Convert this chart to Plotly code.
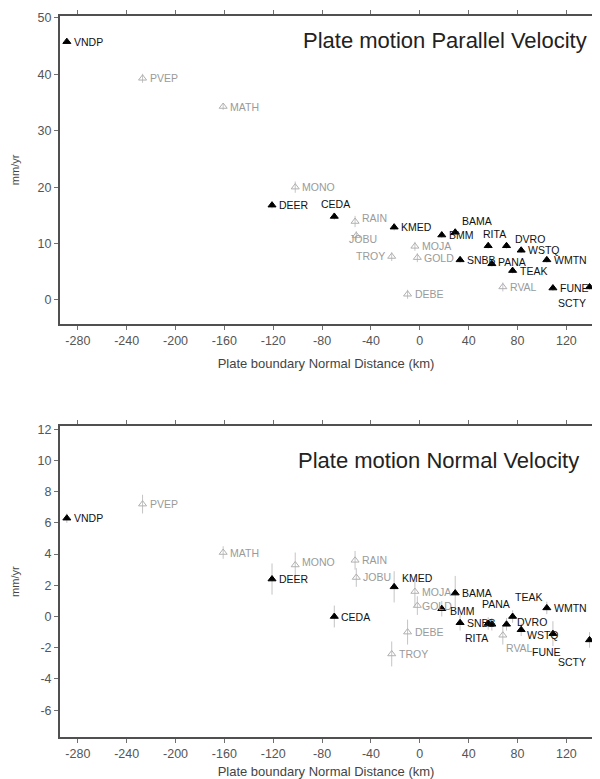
import plotly.graph_objects as go
from plotly.subplots import make_subplots
import pandas as pd

stations = ["VNDP", "PVEP", "MATH", "MONO", "DEER", "CEDA", "RAIN", "JOBU", "KMED", "TROY",
            "MOJA", "GOLD", "DEBE", "BMM", "BAMA", "SNBB", "RITA", "PANA", "DVRO", "TEAK",
            "WSTQ", "RVAL", "WMTN", "FUNE", "SCTY"]
distance = [-289, -227, -161, -102, -121, -70, -53, -52, -21, -23,
            -4, -2, -10, 18, 29, 33, 56, 59, 71, 76,
            83, 68, 104, 109, 139]
parallel_vel = [45.8, 39.3, 34.3, 20.0, 16.8, 14.8, 13.9, 11.4, 12.9, 7.7,
                9.5, 7.5, 1.0, 11.5, 12.0, 7.1, 9.6, 6.4, 9.6, 5.2,
                8.8, 2.3, 7.1, 2.1, 2.3]
parallel_err = [0.4, 0.8, 0.6, 1.0, 0.6, 0.6, 1.0, 0.8, 0.6, 0.8,
                0.8, 0.8, 0.8, 0.5, 0.5, 0.5, 0.5, 0.5, 0.5, 0.5,
                0.5, 0.8, 0.5, 0.5, 0.5]
normal_vel = [6.3, 7.2, 4.1, 3.3, 2.4, 0.0, 3.6, 2.5, 1.9, -2.4,
              1.6, 0.7, -1.0, 0.5, 1.5, -0.4, -0.45, -0.5, -0.5, 0.0,
              -0.85, -1.2, 0.55, -1.1, -1.5]
normal_err = [0.3, 0.6, 0.4, 0.8, 1.0, 0.7, 0.6, 0.6, 1.0, 0.8,
              1.0, 0.6, 0.8, 0.5, 1.1, 0.5, 0.4, 0.4, 0.4, 0.4,
              0.4, 0.6, 0.4, 0.8, 0.5]
filled = [True, False, False, False, True, True, False, False, True, False,
          False, False, False, True, True, True, True, True, True, True,
          True, False, True, True, True]

x_ticks = [-280, -240, -200, -160, -120, -80, -40, 0, 40, 80, 120]
y_ticks_top = [0, 10, 20, 30, 40, 50]
y_ticks_bot = [-6, -4, -2, 0, 2, 4, 6, 8, 10, 12]

# label placement styles: (xanchor, xshift px, yshift px; positive = up)
DEFAULT = ("left", 5, 0)
lab_top = {"CEDA": ("center", 1, 12), "RAIN": ("left", 5, 4), "JOBU": ("left", -9, -3),
           "TROY": ("right", -5, 0), "BAMA": ("left", 5, 11), "RITA": ("center", 6, 12),
           "DVRO": ("left", 6, 7), "PANA": ("left", 4, 2), "SCTY": ("right", -2, -16)}
lab_bot = {"MONO": ("left", 5, 3), "KMED": ("left", 6, 9), "RITA": ("right", 2, -14),
           "PANA": ("center", 4, 20), "TEAK": ("left", 0, 20), "DVRO": ("left", 8, 2),
           "WSTQ": ("left", 4, -5), "RVAL": ("left", 1, -13), "FUNE": ("right", 10, -18),
           "SCTY": ("right", -2, -22), "GOLD": ("left", 3, 0), "BMM": ("left", 6, -2)}

df = pd.DataFrame({"name": stations, "x": distance, "vp": parallel_vel, "ep": parallel_err,
                   "vn": normal_vel, "en": normal_err, "filled": filled})

FONT = "Liberation Sans, Arial, sans-serif"
fig = make_subplots(rows=2, cols=1, vertical_spacing=0.142)

for row, vcol, ecol, labmap in [(1, "vp", "ep", lab_top), (2, "vn", "en", lab_bot)]:
    for is_filled in [False, True]:
        d = df[df["filled"] == is_filled]
        fig.add_trace(go.Scatter(
            x=d["x"], y=d[vcol], mode="markers",
            marker=dict(symbol="triangle-up" if is_filled else "triangle-up-open",
                        size=7, color="#000000" if is_filled else "#b0b0b0",
                        line=dict(width=1, color="#000000" if is_filled else "#b0b0b0")),
            error_y=dict(type="data", array=d[ecol], color="#c4c4c4",
                         thickness=1, width=0),
            showlegend=False, cliponaxis=False,
        ), row=row, col=1)
    xr = "x" if row == 1 else "x2"
    yr = "y" if row == 1 else "y2"
    for _, r in df.iterrows():
        anc, dx, dy = labmap.get(r["name"], DEFAULT)
        fig.add_annotation(x=r["x"], y=r[vcol], xref=xr, yref=yr, text=r["name"],
                           showarrow=False, xanchor=anc, yanchor="middle",
                           xshift=dx, yshift=dy,
                           font=dict(family=FONT, size=10.5,
                                     color="#111111" if r["filled"] else "#9a9a9a"))

axis_common = dict(showline=True, linecolor="#505050", linewidth=2, mirror="ticks",
                   ticks="outside", ticklen=4, tickcolor="#707070", showgrid=False,
                   zeroline=False, tickfont=dict(family=FONT, size=12.5, color="#555555"))

for row, so in [(1, 12), (2, 7)]:
    fig.update_xaxes(range=[-294.6, 141], tickvals=x_ticks,
                     ticktext=[str(v) for v in x_ticks],
                     title=dict(text="Plate boundary Normal Distance (km)",
                                font=dict(family=FONT, size=13, color="#444444"),
                                standoff=so),
                     **axis_common, row=row, col=1)

fig.update_yaxes(range=[-4.25, 50.35], tickvals=y_ticks_top,
                 ticktext=[str(v) for v in y_ticks_top],
                 title=dict(text="mm/yr", font=dict(family=FONT, size=11, color="#444444"),
                            standoff=16),
                 **axis_common, row=1, col=1)
fig.update_yaxes(range=[-7.72, 12.19], tickvals=y_ticks_bot,
                 ticktext=[str(v) for v in y_ticks_bot],
                 title=dict(text="mm/yr", font=dict(family=FONT, size=11, color="#444444"),
                            standoff=16),
                 **axis_common, row=2, col=1)

fig.add_annotation(text="Plate motion Parallel Velocity", xref="x domain", yref="y domain",
                   x=0.995, y=0.922, xanchor="right", yanchor="middle", showarrow=False,
                   font=dict(family=FONT, size=22, color="#222222"))
fig.add_annotation(text="Plate motion Normal Velocity", xref="x2 domain", yref="y2 domain",
                   x=0.98, y=0.89, xanchor="right", yanchor="middle", showarrow=False,
                   font=dict(family=FONT, size=22, color="#222222"))

# page body has an 8px default margin; figure is sized to fit the 600x779 window
fig.update_layout(width=592, height=771, margin=dict(l=52, r=2, t=5, b=42),
                  paper_bgcolor="white", plot_bgcolor="white",
                  font=dict(family=FONT))
fig.update_xaxes(domain=[0, 1])
fig.update_yaxes(domain=[0.573, 1.0], row=1, col=1)
fig.update_yaxes(domain=[0.0, 0.431], row=2, col=1)

fig.write_html("out.html")
